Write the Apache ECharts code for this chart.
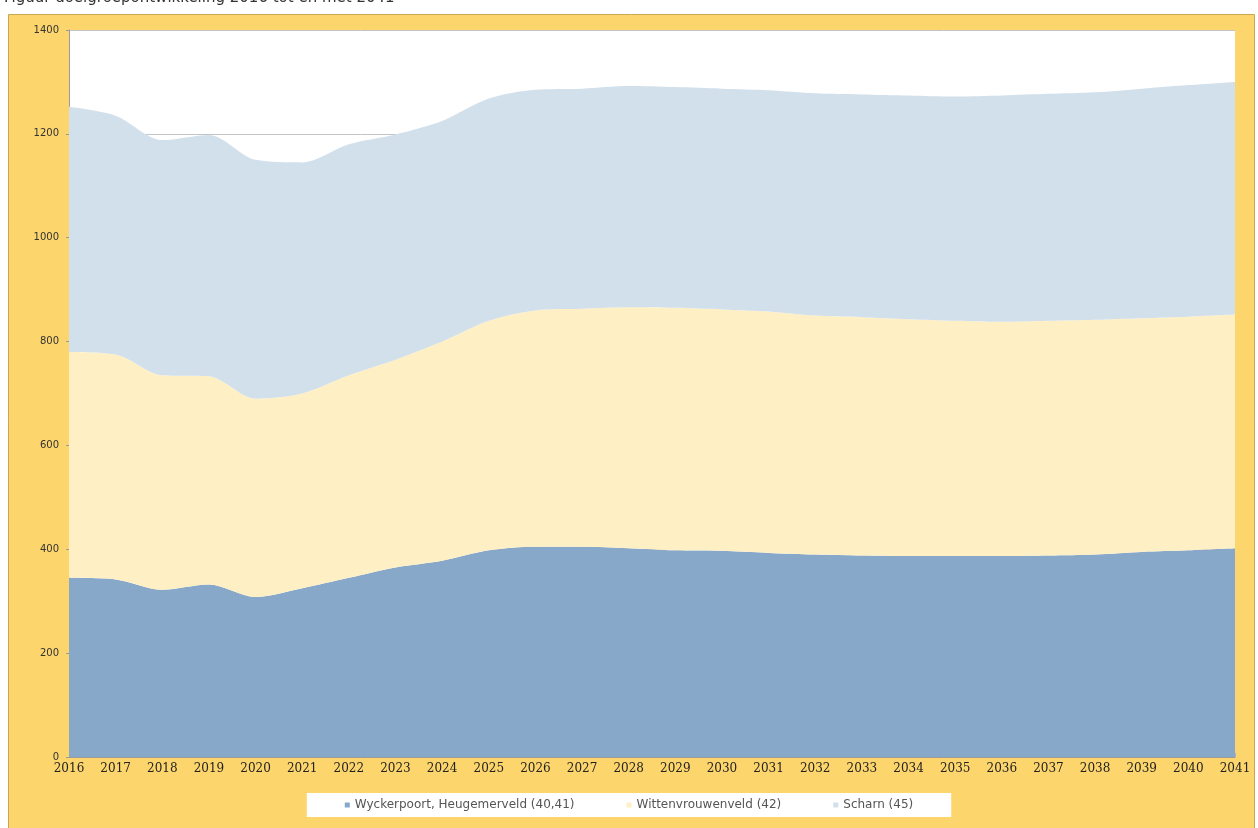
<!DOCTYPE html>
<html>
<head>
<meta charset="utf-8">
<script src="https://cdn.jsdelivr.net/npm/echarts@6/dist/echarts.min.js"></script>
<style>
html,body{margin:0;padding:0;background:#fff;}
#c{width:1258px;height:828px;}
</style>
</head>
<body>
<div id="c"></div>
<script>
const years = ['2016','2017','2018','2019','2020','2021','2022','2023','2024','2025','2026','2027','2028','2029','2030','2031','2032','2033','2034','2035','2036','2037','2038','2039','2040','2041'];
const yTicks = [0,200,400,600,800,1000,1200,1400];
const seriesNames = ['Wyckerpoort, Heugemerveld (40,41)','Wittenvrouwenveld (42)','Scharn (45)'];
// Wyckerpoort, Heugemerveld (40,41)
const wyckerpoort = [345,342,322,332,308,325,345,365,378,398,405,405,402,398,397,393,390,388,387,387,387,388,390,395,398,402];
// Wittenvrouwenveld (42)
const wittenvrouwenveld = [435,433,413,401,382,375,390,400,422,442,455,458,464,467,465,465,460,459,456,453,451,452,452,450,450,450];
// Scharn (45)
const scharn = [472,460,453,465,460,445,445,434,425,428,425,424,426,425,425,426,428,429,431,432,436,437,438,442,446,448];

const colors = ['#87A8C8','#FFEFC4','#D2E0EC'];
const chart = echarts.init(document.getElementById('c'));
const dataSets = [wyckerpoort, wittenvrouwenveld, scharn];
chart.setOption({
  animation:false,
  graphic:[
    {type:'rect', z:-10, shape:{x:8.5,y:14.5,width:1246,height:820}, style:{fill:'#FCD56C',stroke:'#C9A651',lineWidth:1}},
    {type:'text', left:4, top:-9, style:{text:'Figuur doelgroepontwikkeling 2016 tot en met 2041', fontFamily:'DejaVu Sans', fontSize:15, fill:'#333'}}
  ],
  grid:{left:69,right:23,top:30,bottom:71,show:true,backgroundColor:'#fff',borderWidth:0},
  legend:{
    data:seriesNames, bottom:11, left:'center',
    backgroundColor:'#fff', padding:[6,38,6,38], itemGap:52,
    icon:'rect', itemWidth:5, itemHeight:5,
    textStyle:{fontFamily:'DejaVu Sans',fontSize:12,color:'#555'}
  },
  xAxis:{
    type:'category', data:years, boundaryGap:false,
    axisLine:{show:true,lineStyle:{color:'#9a9a9a'}},
    axisTick:{show:true,inside:true,length:4,lineStyle:{color:'#b0b0b0'}},
    axisLabel:{fontFamily:'DejaVu Serif',fontSize:12,color:'#222',margin:6,interval:0}
  },
  yAxis:{
    type:'value', min:0, max:1400, interval:200,
    axisLine:{show:true,lineStyle:{color:'#9a9a9a'}},
    axisTick:{show:true,length:3,lineStyle:{color:'#9a9a9a'}},
    axisLabel:{fontFamily:'DejaVu Sans',fontSize:10,color:'#333',margin:10,
      formatter:v=>yTicks.includes(v)?String(v):''},
    splitLine:{show:true,lineStyle:{color:'#c4c4c4',width:1}}
  },
  series: dataSets.map((d,i)=>({
    name:seriesNames[i], type:'line', stack:'total', data:d,
    symbol:'none', smooth:0.3,
    lineStyle:{width:0}, itemStyle:{color:colors[i]},
    areaStyle:{color:colors[i],opacity:1}
  }))
});
</script>
</body>
</html>
